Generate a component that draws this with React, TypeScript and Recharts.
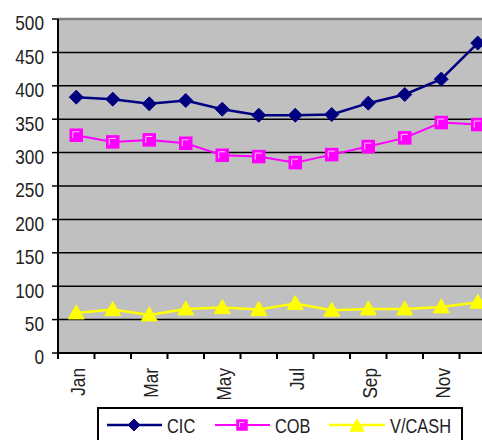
import { LineChart, Line, XAxis, YAxis, CartesianGrid, ReferenceLine } from "recharts";

const months = ["Jan", "Feb", "Mar", "Apr", "May", "Jun", "Jul", "Aug", "Sep", "Oct", "Nov", "Dec"];
const cic = [383, 380, 373, 378, 365, 356, 356, 357, 374, 387, 410, 464];
const cob = [326, 316, 319, 314, 296, 294, 285, 297, 309, 322, 345, 342];
const vcash = [60, 65, 57, 66, 68, 65, 74, 64, 66, 66, 69, 76];
const yTicks = [0, 50, 100, 150, 200, 250, 300, 350, 400, 450, 500];

const data = months.map((m, i) => ({ month: m, CIC: cic[i], COB: cob[i], VCASH: vcash[i] }));

const FONT = "'Liberation Sans', Arial, sans-serif";
const NARROW = 0.82; // fake a narrow face, none is installed
const CHART_W = 500;
const CHART_H = 440;
const Y_W = 58;
const RIGHT = 4;
const HALF_BAND = (CHART_W - Y_W - RIGHT) / months.length / 2;

function NText({ x, y, size, anchor = "start", rotate = 0, dy, children }: any) {
  return (
    <g transform={`translate(${x},${y}) rotate(${rotate}) scale(${NARROW},1)`}>
      <text x={0} y={0} dy={dy} textAnchor={anchor} fill="#222" fontSize={size} fontFamily={FONT}>
        {children}
      </text>
    </g>
  );
}

function Diamond({ cx, cy, r = 7 }: any) {
  return <polygon points={`${cx},${cy - r} ${cx + r},${cy} ${cx},${cy + r} ${cx - r},${cy}`} fill="#000080" stroke="#000080" strokeWidth={1} />;
}

function Square({ cx, cy, r = 6 }: any) {
  return (
    <g>
      <rect x={cx - r} y={cy - r} width={r * 2} height={r * 2} fill="#FF00FF" stroke="#FF00FF" strokeWidth={1.5} />
      <polyline points={`${cx - r + 2.5},${cy + r - 3} ${cx - r + 2.5},${cy - r + 2.5} ${cx + r - 3},${cy - r + 2.5}`} fill="none" stroke="#FFC8FF" strokeWidth={1} />
    </g>
  );
}

function Triangle({ cx, cy, r = 8 }: any) {
  return <polygon points={`${cx},${cy - r} ${cx + r},${cy + r * 0.75} ${cx - r},${cy + r * 0.75}`} fill="#FFFF00" stroke="#FFFF00" strokeWidth={1} />;
}

function YTick({ x, y, payload }: any) {
  return <NText x={x} y={y + 4} dy="0.355em" anchor="end" size={21}>{payload.value}</NText>;
}

function XTick({ x, y, payload, index }: any) {
  return (
    <g>
      <line x1={x - HALF_BAND} y1={y} x2={x - HALF_BAND} y2={y + 6} stroke="#000" strokeWidth={2} />
      {index % 2 === 0 && (
        <NText x={x + 9} y={y + 15} rotate={-90} anchor="end" size={21}>{payload.value}</NText>
      )}
    </g>
  );
}

function ChartLegend() {
  return (
    <div style={{ position: "absolute", left: 97, top: 407, width: 366, height: 42, border: "2px solid #000", boxSizing: "border-box", background: "#fff" }}>
      <svg width={362} height={38} style={{ display: "block" }}>
        <line x1={8} y1={16} x2={63} y2={16} stroke="#000080" strokeWidth={2.5} />
        <Diamond cx={35} cy={16} r={6} />
        <NText x={68} y={23.5} size={20}>CIC</NText>
        <line x1={116} y1={16} x2={171} y2={16} stroke="#FF00FF" strokeWidth={2} />
        <Square cx={143} cy={16} r={5} />
        <NText x={176} y={23.5} size={20}>COB</NText>
        <line x1={230} y1={16} x2={286} y2={16} stroke="#FFFF00" strokeWidth={2.5} />
        <Triangle cx={258} cy={17} r={7} />
        <NText x={291} y={23.5} size={20}>V/CASH</NText>
      </svg>
    </div>
  );
}

export default function App() {
  return (
    <div style={{ position: "absolute", left: 0, top: 0, width: 482, height: 440, overflow: "hidden", background: "#fff" }}>
      <LineChart width={CHART_W} height={CHART_H} data={data} margin={{ top: 19, right: RIGHT, bottom: 0, left: 0 }}>
        <CartesianGrid horizontal vertical={false} stroke="#000" strokeWidth={1.5} fill="#C0C0C0" fillOpacity={1} />
        <ReferenceLine y={500} stroke="#808080" strokeWidth={2.5} />
        <XAxis
          dataKey="month"
          interval={0}
          height={87}
          padding={{ left: HALF_BAND, right: HALF_BAND }}
          tickLine={false}
          tickSize={0}
          tickMargin={0}
          axisLine={{ stroke: "#000", strokeWidth: 2 }}
          tick={<XTick />}
        />
        <YAxis
          width={Y_W}
          domain={[0, 500]}
          ticks={yTicks}
          interval={0}
          tickSize={6}
          tickMargin={8}
          tickLine={{ stroke: "#000", strokeWidth: 1.5 }}
          axisLine={{ stroke: "#000", strokeWidth: 2 }}
          tick={<YTick />}
        />
        <Line dataKey="CIC" stroke="#000080" strokeWidth={2.5} isAnimationActive={false}
          dot={(p: any) => <Diamond key={`cic-${p.index}`} cx={p.cx} cy={p.cy} />} activeDot={false} />
        <Line dataKey="COB" stroke="#FF00FF" strokeWidth={2} isAnimationActive={false}
          dot={(p: any) => <Square key={`cob-${p.index}`} cx={p.cx} cy={p.cy} />} activeDot={false} />
        <Line dataKey="VCASH" name="V/CASH" stroke="#FFFF00" strokeWidth={2.5} isAnimationActive={false}
          dot={(p: any) => <Triangle key={`vc-${p.index}`} cx={p.cx} cy={p.cy} />} activeDot={false} />
      </LineChart>
      <ChartLegend />
    </div>
  );
}
